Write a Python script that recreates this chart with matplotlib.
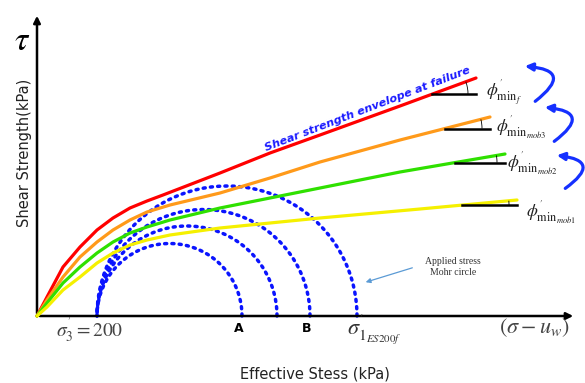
import numpy as np
import matplotlib
matplotlib.use("Agg")
import matplotlib.pyplot as plt
from matplotlib.patches import FancyArrowPatch, Arc

plt.rcParams['mathtext.fontset'] = 'stix'

# failure / mobilised envelopes (effective stress vs shear strength, chart units)
red_x = [0, 10, 26, 43, 60, 76, 93, 110, 126, 183, 233, 283, 363, 439]
red_y = [0, 19, 49, 69, 86, 98, 108, 115, 121, 143, 163, 181, 210, 238]
orange_x = [0, 10, 26, 43, 60, 76, 93, 110, 133, 183, 233, 283, 363, 453]
orange_y = [0, 16, 39, 59, 74, 86, 96, 104, 111, 123, 138, 154, 176, 199]
green_x = [0, 10, 26, 43, 60, 76, 93, 110, 133, 183, 233, 283, 363, 468]
green_y = [0, 13, 33, 49, 63, 74, 83, 89, 96, 108, 118, 128, 144, 162]
yellow_x = [0, 10, 26, 43, 60, 76, 93, 110, 133, 183, 233, 283, 383, 480]
yellow_y = [0, 9, 26, 39, 53, 63, 71, 76, 81, 88, 93, 98, 107, 116]

# Mohr circles: common sigma3, increasing sigma1
sigma3 = 60
sigma1 = [205, 240, 273, 320]

phi_labels = [r"$\phi^{'}_{\mathrm{min}_{f}}$",
              r"$\phi^{'}_{\mathrm{min}_{mob3}}$",
              r"$\phi^{'}_{\mathrm{min}_{mob2}}$",
              r"$\phi^{'}_{\mathrm{min}_{mob1}}$"]

fig = plt.figure(figsize=(5.85, 3.83), dpi=100)
ax = fig.add_axes([0, 0, 1, 1])
ax.set_xlim(-37, 548)
ax.set_ylim(-67, 316)
ax.set_aspect('equal')
ax.axis('off')

# axes with arrows
ax.annotate('', xy=(0, 303), xytext=(0, 0),
            arrowprops=dict(arrowstyle='-|>', color='black', lw=1.8, mutation_scale=10))
ax.annotate('', xy=(539, 0), xytext=(0, 0),
            arrowprops=dict(arrowstyle='-|>', color='black', lw=1.8, mutation_scale=10))

# Mohr circles
th = np.linspace(0, np.pi, 200)
for s1 in sigma1:
    c = (s1 + sigma3) / 2
    r = (s1 - sigma3) / 2
    ax.plot(c + r * np.cos(th), r * np.sin(th), color='#0a14ff', lw=2.5,
            linestyle=(0, (0.6, 1.5)), dash_capstyle='round', zorder=2)

series = [(red_x, red_y, '#ff0000'), (orange_x, orange_y, '#ff9a1a'),
          (green_x, green_y, '#2fe000'), (yellow_x, yellow_y, '#f5f000')]
tan_len = [44, 45, 50, 55]
lab_pos = [(449, 224), (459, 189), (470, 153), (489, 104)]
for (xs, ys, col), tl, lab, (lx, ly) in zip(series, tan_len, phi_labels, lab_pos):
    ax.plot(xs, ys, color=col, lw=2.3, solid_capstyle='round',
            solid_joinstyle='round', zorder=3)
    x0 = xs[-1] - tl
    y0 = np.interp(x0, xs, ys)
    ax.plot([x0, xs[-1]], [y0, y0], color='black', lw=1.8, zorder=4)
    ang = np.degrees(np.arctan2(ys[-1] - ys[-2], xs[-1] - xs[-2]))
    ax.add_patch(Arc((x0, y0), 2 * (tl - 8), 2 * (tl - 8), theta1=0, theta2=ang,
                     color='black', lw=0.6, zorder=4))
    ax.text(lx, ly, lab, fontsize=12.5, va='center', ha='left', color='#222222')

# curved blue arrows between the angle labels
arrow_start = [(496, 213), (515, 173), (526, 126)]
arrow_end = [(485, 250), (505, 209), (517, 161)]
for s, e in zip(arrow_start, arrow_end):
    ax.add_patch(FancyArrowPatch(s, e, connectionstyle='arc3,rad=1.35',
                                 arrowstyle='-|>', mutation_scale=11, lw=2.3,
                                 color='#1530ff'))

# texts
ax.text(331, 207, 'Shear strength envelope at failure', rotation=21,
        ha='center', va='center', color='#1a1aff', fontsize=8.1,
        fontweight='bold', fontstyle='italic')
ax.text(-15, 276, r"$\tau$", fontsize=24, ha='center', va='center')
ax.text(-12, 163, 'Shear Strength(kPa)', rotation=90, ha='center', va='center',
        fontsize=10.5, color='#222222')
ax.text(278, -58, 'Effective Stess (kPa)', ha='center', va='center',
        fontsize=10.5, color='#222222')
ax.text(sigma3 - 7, -14, r"$\sigma^{'}_{3} = 200$", fontsize=14, ha='center',
        va='center', color='#444444')
ax.text(sigma1[0] - 3, -12, 'A', fontsize=9, fontweight='bold', ha='center', va='center')
ax.text(sigma1[2] - 3, -12, 'B', fontsize=9, fontweight='bold', ha='center', va='center')
ax.text(sigma1[3] - 10, -14, r"$\sigma^{'}_{1_{ES200f}}$", fontsize=16, ha='left',
        va='center', color='#333333')
ax.text(497, -12, r"$(\sigma - u_w)$", fontsize=16, ha='center', va='center',
        color='#444444')
ax.text(416, 49, 'Applied stress\nMohr circle', fontsize=7, ha='center', va='center',
        family='Liberation Serif', linespacing=1.3, color='#333333')
ax.annotate('', xy=(sigma1[3] + 6, 33), xytext=(378, 49),
            arrowprops=dict(arrowstyle='-|>', color='#5b9bd5', lw=0.9, mutation_scale=7))

fig.savefig('out.png', dpi=100)
